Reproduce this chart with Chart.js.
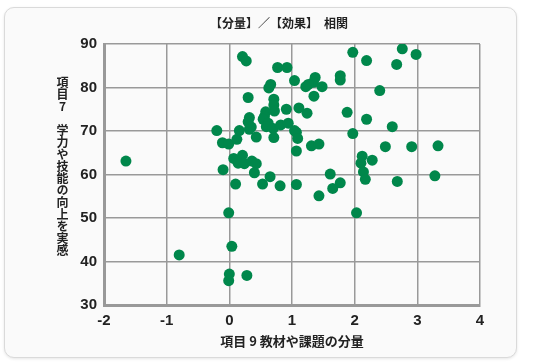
<!DOCTYPE html>
<html lang="ja">
<head>
<meta charset="utf-8">
<script src="https://cdn.jsdelivr.net/npm/chart.js@4.4.0/dist/chart.umd.min.js"></script>
<style>
  html, body { margin: 0; padding: 0; background: #fff; }
  #wrap { position: relative; width: 550px; height: 364px; overflow: hidden; }
  #card {
    position: absolute; left: 4px; top: 7px; width: 513px; height: 351px;
    box-sizing: border-box; border: 1px solid #dadada; border-radius: 10px;
    background: #fafafa; box-shadow: 0 1px 3px rgba(0, 0, 0, 0.10);
  }
  #ylabel {
    position: absolute; left: 55px; top: 76px; width: 14px;
    writing-mode: vertical-rl; text-orientation: upright;
    font: bold 12px "Noto Sans CJK JP"; line-height: 14px; color: #222;
  }
  #chart { position: absolute; left: 0; top: 0; }
</style>
</head>
<body>
<div id="wrap">
  <div id="card"></div>
  <canvas id="chart" width="550" height="364"></canvas>
  <div id="ylabel">項目7 学力や技能の向上を実感</div>
</div>
<script>
// chart texts
const chartTitle = '【分量】／【効果】　相関';
const xTitle = '項目 9 教材や課題の分量';

// axis ranges (tick labels come from these)
const xRange = [-2, 4];
const yRange = [30, 90];

// item 9 score (x) and item 7 score (y), one entry per respondent group
const xValues = [
  -1.65, -0.8, -0.2, -0.11, -0.01, -0.1, 0.12, 0.16, 0.07, 0.21,
  0.14, 0.24, 0.36, 0.43, 0.4, 0.1, 0.53, 0.65, 0.81, 1.07,
  -0.01, 0.04, 0.0, 0.28, -0.01, 0.21, 0.27, 0.77, 0.92, 0.66,
  0.63, 0.3, 0.71, 0.71, 0.72, 0.58, 0.56, 0.91, 0.32, 0.3,
  0.54, 0.62, 0.35, 0.32, 0.59, 0.7, 0.82, 0.94, 1.04, 0.43,
  0.71, 1.04, 1.37, 1.34, 1.26, 1.22, 1.48, 1.77, 1.77, 1.35,
  1.97, 2.19, 2.76, 2.98, 2.67, 2.4, 1.11, 1.24, 1.88, 2.19,
  2.6, 1.07, 1.09, 1.97, 1.31, 1.43, 1.07, 2.49, 2.91, 3.33,
  2.12, 2.28, 2.1, 2.14, 2.17, 1.61, 1.77, 1.65, 1.43, 2.03,
  2.68, 3.28
];
const yValues = [
  63.1, 41.5, 70.1, 67.3, 67.0, 61.1, 68.1, 70.1, 63.7, 64.4,
  62.6, 62.5, 63.1, 62.5, 60.4, 57.8, 57.8, 59.5, 57.4, 57.7,
  51.2, 43.5, 37.1, 36.8, 35.6, 87.1, 86.1, 84.6, 84.6, 80.7,
  79.9, 77.7, 77.3, 76.0, 74.6, 74.4, 73.3, 75.0, 73.1, 72.1,
  72.7, 71.8, 70.9, 70.4, 71.0, 70.6, 71.4, 71.8, 70.1, 68.6,
  68.5, 81.6, 82.3, 81.2, 80.7, 80.2, 80.2, 82.7, 81.7, 78.0,
  88.1, 86.2, 88.9, 87.6, 85.3, 79.3, 75.3, 74.1, 74.3, 72.7,
  71.0, 69.7, 68.3, 69.4, 66.6, 67.0, 65.4, 66.4, 66.4, 66.6,
  64.2, 63.3, 62.6, 60.6, 58.9, 60.1, 58.1, 56.8, 55.1, 51.2,
  58.4, 59.7
];

const points = xValues.map((x, i) => ({ x: x, y: yValues[i] }));

const tickFont = { family: '"Liberation Sans", Arial, sans-serif', size: 15, weight: 'bold' };
const gridColor = '#999';

// title is centred over the plot, not over the whole canvas
const titlePlugin = {
  id: 'plotTitle',
  afterDraw(chart) {
    const ctx = chart.ctx;
    ctx.save();
    ctx.font = 'bold 12px "Noto Sans CJK JP"';
    ctx.fillStyle = '#222';
    ctx.textAlign = 'center';
    ctx.textBaseline = 'middle';
    ctx.fillText(chartTitle, 279, 23);
    ctx.restore();
  }
};

new Chart(document.getElementById('chart'), {
  type: 'scatter',
  data: {
    datasets: [{
      data: points,
      backgroundColor: '#00874b',
      borderWidth: 0,
      pointRadius: 5.5,
      pointHoverRadius: 5.5
    }]
  },
  options: {
    responsive: false,
    animation: false,
    layout: { padding: { left: 0, right: 70, top: 44, bottom: 0 } },
    plugins: {
      legend: { display: false },
      tooltip: { enabled: false },
      title: { display: false }
    },
    scales: {
      x: {
        type: 'linear',
        min: xRange[0],
        max: xRange[1],
        ticks: { stepSize: 1, font: tickFont, color: '#222', padding: 7 },
        grid: { color: gridColor, lineWidth: 1.5, drawTicks: false },
        border: { color: gridColor, width: 3 },
        title: {
          display: true,
          text: xTitle,
          color: '#222',
          font: { family: '"Noto Sans CJK JP"', size: 13, weight: 'bold' },
          padding: { top: 2, bottom: 15 }
        },
        afterFit: scale => { scale.height = 59; }
      },
      y: {
        min: yRange[0],
        max: yRange[1],
        ticks: { stepSize: 10, font: tickFont, color: '#222', padding: 7 },
        grid: { color: gridColor, lineWidth: 1.5, drawTicks: false },
        border: { color: gridColor, width: 3 },
        afterFit: scale => { scale.width = 104; }
      }
    }
  },
  plugins: [titlePlugin]
});
</script>
</body>
</html>
